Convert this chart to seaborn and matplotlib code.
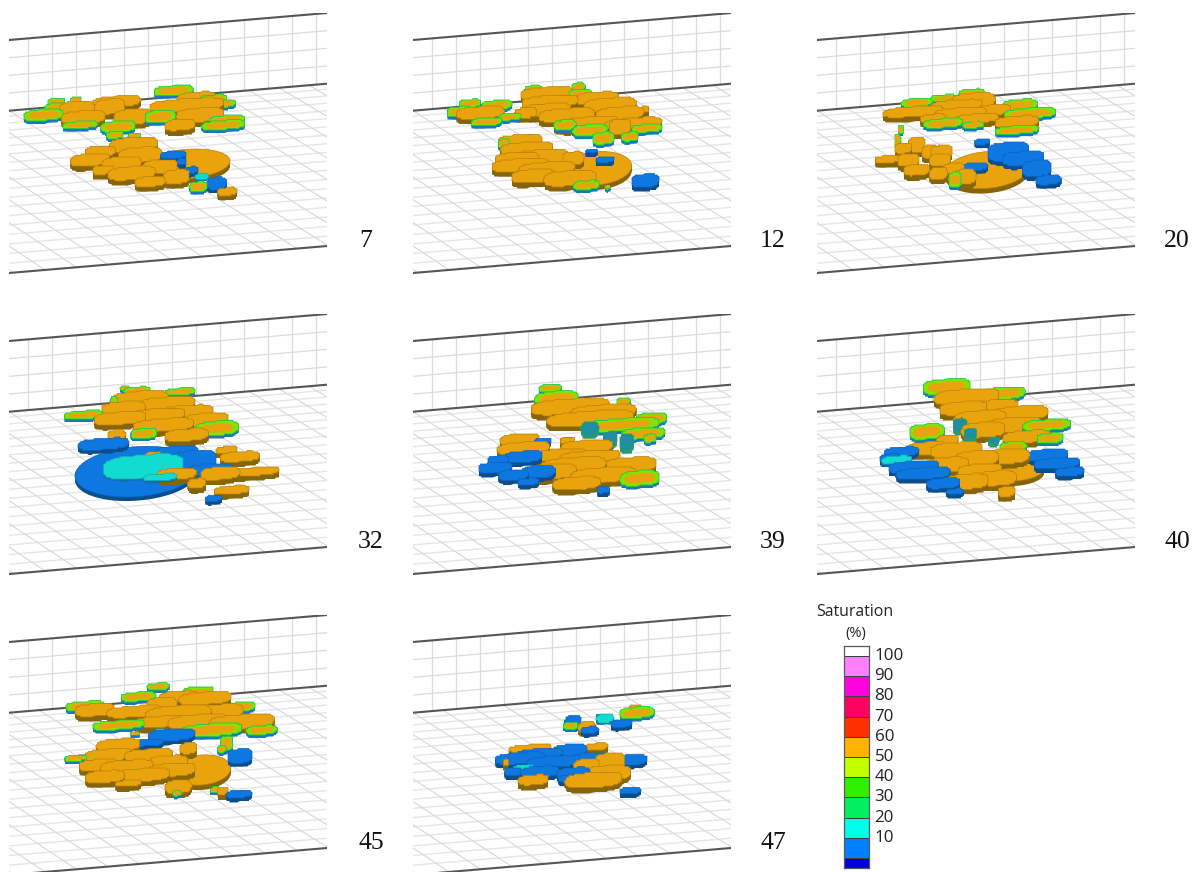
import numpy as np
import pandas as pd
import seaborn as sns
import matplotlib
matplotlib.use("Agg")
import matplotlib.pyplot as plt
from matplotlib.colors import ListedColormap

sns.set_theme(style="white")
plt.rcParams['font.family'] = ['Open Sans', 'DejaVu Sans']

W, H = 1203, 872
PANEL_LABELS = ["7", "12", "20", "32", "39", "40", "45", "47"]
PANEL_COL = [0, 1, 2, 0, 1, 2, 0, 1]
PANEL_ROW = [0, 0, 0, 1, 1, 1, 2, 2]
LEGEND_TICKS = [100, 90, 80, 70, 60, 50, 40, 30, 20, 10]
LEGEND_COLORS = ["#ffffff", "#ff80ff", "#ff00e0", "#ff0060", "#ff3000", "#ffb400",
                 "#c0ff00", "#30f000", "#00f060", "#00ffe8", "#0080ff", "#0000e0"]

# lobes of the saturated region: (x, y, width, height, kind)
# kinds: o orange, g orange with wet green rim, b blue, c cyan, t teal
P07_ORIGIN = (0, 0)
P07_DISCS = [(560, 492, 260, 88, "o")]
P07_LOBES = [
    (130, 345, 90, 22, "g"), (175, 322, 60, 18, "g"), (170, 305, 38, 14, "g"), (228, 300, 26, 12, "g"),
    (230, 325, 80, 28, "o"), (250, 352, 100, 26, "o"), (240, 375, 80, 14, "g"), (330, 320, 70, 30, "o"),
    (350, 305, 110, 22, "o"), (400, 350, 90, 30, "o"), (355, 380, 80, 22, "g"), (345, 405, 40, 14, "g"),
    (400, 408, 30, 12, "g"), (520, 272, 90, 20, "g"), (590, 295, 90, 25, "o"), (560, 315, 170, 25, "o"),
    (600, 345, 110, 28, "o"), (680, 360, 80, 18, "g"), (670, 375, 100, 18, "g"), (540, 375, 70, 22, "o"),
    (480, 350, 70, 25, "g"), (640, 295, 60, 14, "g"), (680, 310, 40, 14, "g"), (400, 435, 110, 30, "o"),
    (300, 455, 70, 22, "o"), (420, 465, 100, 30, "o"), (270, 480, 90, 24, "o"), (365, 490, 90, 26, "o"),
    (310, 510, 50, 18, "o"), (395, 520, 110, 26, "o"), (450, 545, 70, 20, "o"), (480, 500, 80, 28, "o"),
    (530, 530, 60, 28, "o"), (595, 560, 40, 20, "g"), (520, 465, 60, 16, "b"), (545, 485, 20, 14, "b"),
    (575, 510, 30, 14, "b"), (605, 530, 38, 18, "c"), (650, 550, 45, 26, "b"), (680, 575, 45, 16, "o"),
]
P12_ORIGIN = (430, 70)
P12_DISCS = [(500, 295, 210, 100, "o")]
P12_LOBES = [
    (120, 100, 50, 16, "g"), (200, 105, 70, 18, "g"), (90, 125, 60, 20, "g"), (150, 128, 110, 24, "o"),
    (170, 155, 70, 16, "g"), (240, 140, 50, 14, "g"), (285, 128, 50, 20, "o"), (350, 70, 120, 25, "o"),
    (310, 60, 40, 18, "g"), (360, 95, 130, 24, "o"), (350, 120, 110, 26, "o"), (410, 135, 130, 26, "o"),
    (470, 160, 150, 24, "o"), (480, 180, 80, 22, "g"), (520, 205, 50, 24, "g"), (450, 70, 50, 16, "g"),
    (445, 50, 30, 16, "g"), (500, 85, 100, 25, "o"), (540, 105, 120, 28, "o"), (570, 130, 110, 25, "o"),
    (610, 160, 130, 22, "o"), (650, 175, 70, 16, "g"), (600, 200, 40, 18, "g"), (570, 170, 50, 30, "o"),
    (405, 165, 50, 20, "g"), (645, 118, 16, 12, "o"), (270, 212, 100, 24, "o"), (222, 220, 25, 20, "g"),
    (290, 235, 120, 24, "o"), (260, 265, 100, 24, "o"), (330, 262, 130, 30, "o"), (270, 285, 130, 25, "o"),
    (350, 295, 130, 24, "o"), (310, 318, 100, 26, "o"), (420, 325, 120, 30, "o"), (470, 345, 60, 18, "g"),
    (430, 265, 50, 26, "o"), (485, 243, 28, 8, "b"), (525, 269, 42, 12, "b"), (645, 332, 66, 28, "b"),
    (533, 352, 12, 8, "g"),
]
P20_ORIGIN = (860, 80)
P20_DISCS = [(380, 270, 250, 110, "o")]
P20_LOBES = [
    (335, 42, 60, 20, "g"), (250, 55, 60, 14, "g"), (170, 68, 70, 16, "g"), (340, 62, 100, 30, "o"),
    (160, 95, 140, 20, "o"), (290, 75, 120, 20, "o"), (300, 100, 120, 22, "o"), (400, 90, 80, 20, "o"),
    (350, 115, 100, 18, "o"), (480, 75, 80, 22, "g"), (510, 100, 120, 20, "g"), (250, 130, 90, 18, "g"),
    (470, 125, 100, 22, "o"), (470, 150, 100, 16, "g"), (340, 135, 50, 12, "g"), (220, 115, 60, 16, "o"),
    (120, 148, 12, 14, "g"), (112, 180, 14, 24, "g"), (170, 195, 40, 30, "o"), (210, 215, 40, 25, "o"),
    (245, 215, 50, 25, "o"), (130, 205, 40, 20, "o"), (90, 237, 70, 14, "o"), (145, 240, 50, 25, "o"),
    (170, 270, 60, 22, "o"), (240, 240, 50, 25, "o"), (235, 280, 40, 25, "o"), (280, 265, 50, 20, "o"),
    (315, 290, 50, 30, "o"), (285, 300, 30, 30, "g"), (368, 185, 36, 12, "b"), (345, 260, 60, 16, "b"),
    (445, 215, 100, 40, "b"), (490, 235, 100, 30, "b"), (530, 265, 70, 34, "b"), (565, 300, 60, 20, "b"),
]
P32_ORIGIN = (0, 370)
P32_DISCS = [(410, 305, 370, 150, "b")]
P32_LOBES = [
    (375, 55, 20, 10, "g"), (410, 60, 60, 12, "g"), (540, 65, 70, 14, "g"), (420, 85, 130, 28, "o"),
    (370, 115, 100, 26, "o"), (500, 100, 130, 25, "o"), (250, 135, 90, 16, "g"), (360, 145, 120, 25, "o"),
    (470, 135, 130, 25, "o"), (560, 125, 120, 25, "o"), (490, 165, 140, 25, "o"), (620, 150, 100, 28, "o"),
    (650, 175, 100, 28, "g"), (430, 190, 60, 20, "g"), (560, 195, 100, 24, "o"), (350, 195, 40, 20, "o"),
    (340, 110, 20, 40, "g"), (310, 222, 120, 24, "b"), (530, 245, 100, 24, "b"), (680, 240, 50, 14, "o"),
    (720, 260, 90, 20, "o"), (580, 270, 110, 40, "b"), (430, 290, 240, 70, "c"), (460, 262, 40, 22, "o"),
    (560, 255, 80, 16, "c"), (630, 300, 110, 26, "b"), (760, 305, 120, 16, "o"), (660, 310, 90, 25, "o"),
    (530, 312, 90, 22, "o"), (480, 322, 100, 20, "c"), (590, 340, 40, 20, "o"), (695, 360, 80, 16, "o"),
    (640, 385, 40, 12, "b"),
]
P39_ORIGIN = (470, 375)
P39_DISCS = []
P39_LOBES = [
    (240, 40, 50, 16, "g"), (260, 70, 100, 28, "g"), (460, 80, 30, 16, "g"), (300, 95, 180, 30, "o"),
    (400, 110, 150, 28, "o"), (545, 130, 70, 22, "g"), (360, 130, 200, 28, "o"), (360, 160, 50, 40, "t"),
    (450, 150, 180, 25, "g"), (420, 190, 40, 40, "t"), (520, 175, 100, 22, "g"), (540, 190, 30, 16, "g"),
    (470, 200, 40, 50, "t"), (150, 195, 90, 25, "o"), (220, 198, 40, 12, "b"), (290, 195, 30, 14, "o"),
    (160, 220, 120, 25, "o"), (350, 215, 120, 25, "o"), (270, 240, 120, 24, "o"), (360, 245, 140, 24, "o"),
    (160, 245, 90, 24, "b"), (85, 255, 50, 18, "b"), (480, 270, 120, 30, "o"), (310, 270, 150, 30, "o"),
    (75, 278, 80, 22, "b"), (240, 290, 120, 30, "o"), (205, 290, 80, 26, "b"), (400, 300, 150, 30, "o"),
    (130, 300, 70, 22, "b"), (510, 310, 90, 30, "g"), (175, 320, 50, 14, "b"), (320, 325, 110, 25, "o"),
    (400, 345, 30, 14, "b"),
]
P40_ORIGIN = (870, 375)
P40_DISCS = [(440, 285, 165, 65, "o")]
P40_LOBES = [
    (200, 35, 50, 14, "g"), (230, 35, 110, 30, "g"), (290, 65, 150, 30, "o"), (400, 55, 100, 24, "g"),
    (280, 100, 110, 26, "o"), (380, 95, 100, 28, "o"), (450, 115, 130, 28, "o"), (270, 150, 40, 40, "t"),
    (330, 130, 120, 30, "o"), (430, 150, 130, 30, "o"), (530, 150, 110, 22, "g"), (300, 175, 40, 30, "t"),
    (340, 165, 100, 30, "o"), (370, 195, 30, 20, "t"), (470, 185, 110, 24, "o"), (540, 190, 60, 20, "g"),
    (430, 215, 60, 20, "g"), (170, 170, 80, 30, "g"), (230, 195, 50, 20, "o"), (170, 220, 90, 25, "o"),
    (260, 225, 120, 30, "o"), (95, 230, 80, 20, "b"), (320, 250, 100, 30, "o"), (400, 245, 120, 30, "o"),
    (60, 250, 50, 18, "b"), (80, 255, 90, 24, "c"), (530, 240, 100, 24, "b"), (230, 270, 100, 30, "o"),
    (130, 275, 120, 24, "b"), (560, 265, 110, 22, "b"), (330, 285, 100, 24, "o"), (600, 290, 70, 18, "b"),
    (160, 295, 130, 24, "b"), (380, 310, 90, 30, "o"), (290, 320, 100, 30, "o"), (220, 325, 80, 22, "b"),
    (255, 350, 40, 12, "b"), (410, 350, 40, 20, "o"),
]
P45_ORIGIN = (55, 680)
P45_DISCS = [(440, 270, 175, 90, "o")]
P45_LOBES = [
    (310, 20, 50, 14, "g"), (430, 32, 70, 16, "g"), (250, 50, 80, 18, "g"), (370, 50, 90, 22, "o"),
    (450, 55, 120, 25, "o"), (90, 78, 90, 18, "g"), (320, 75, 70, 30, "o"), (560, 80, 60, 18, "g"),
    (120, 90, 90, 25, "o"), (240, 95, 130, 22, "o"), (370, 100, 150, 30, "o"), (480, 95, 130, 28, "o"),
    (320, 125, 130, 22, "o"), (430, 125, 140, 28, "o"), (560, 125, 150, 28, "o"), (190, 135, 120, 18, "g"),
    (620, 150, 70, 18, "g"), (470, 150, 140, 25, "g"), (320, 155, 40, 16, "c"), (240, 160, 20, 8, "g"),
    (350, 165, 110, 25, "b"), (280, 188, 70, 14, "b"), (515, 190, 30, 30, "g"), (500, 207, 20, 14, "g"),
    (400, 205, 40, 22, "o"), (555, 228, 60, 30, "b"), (190, 195, 100, 24, "o"), (60, 232, 50, 12, "g"),
    (160, 225, 110, 24, "o"), (280, 225, 110, 24, "o"), (340, 245, 90, 24, "o"), (130, 255, 90, 22, "o"),
    (215, 260, 120, 26, "o"), (350, 270, 110, 26, "o"), (150, 290, 90, 24, "o"), (260, 285, 130, 26, "o"),
    (220, 310, 60, 12, "o"), (370, 320, 60, 26, "o"), (365, 340, 20, 10, "g"), (478, 328, 18, 12, "g"),
    (503, 333, 26, 14, "o"), (552, 342, 60, 16, "b"),
]
P47_ORIGIN = (490, 700)
P47_DISCS = []
P47_LOBES = [
    (435, 25, 30, 14, "o"), (440, 38, 80, 22, "g"), (335, 50, 30, 14, "b"), (345, 55, 50, 26, "c"),
    (250, 65, 40, 26, "b"), (395, 70, 50, 16, "b"), (240, 75, 30, 16, "g"), (290, 80, 40, 20, "o"),
    (300, 90, 40, 14, "b"), (120, 145, 100, 14, "o"), (320, 140, 50, 14, "o"), (240, 150, 80, 24, "b"),
    (150, 160, 110, 20, "b"), (90, 175, 120, 24, "b"), (300, 175, 90, 24, "b"), (420, 180, 80, 22, "b"),
    (45, 185, 12, 14, "o"), (360, 185, 70, 34, "o"), (190, 185, 130, 24, "b"), (290, 200, 60, 30, "o"),
    (100, 205, 60, 20, "c"), (70, 215, 40, 18, "b"), (150, 215, 90, 24, "b"), (350, 220, 110, 30, "o"),
    (250, 220, 80, 25, "b"), (250, 235, 70, 16, "b"), (130, 240, 70, 20, "o"), (310, 240, 130, 30, "o"),
    (420, 272, 50, 14, "b"),
]
ALL_ORIGINS = [P07_ORIGIN, P12_ORIGIN, P20_ORIGIN, P32_ORIGIN, P39_ORIGIN, P40_ORIGIN, P45_ORIGIN, P47_ORIGIN]
ALL_DISCS = [P07_DISCS, P12_DISCS, P20_DISCS, P32_DISCS, P39_DISCS, P40_DISCS, P45_DISCS, P47_DISCS]
ALL_LOBES = [P07_LOBES, P12_LOBES, P20_LOBES, P32_LOBES, P39_LOBES, P40_LOBES, P45_LOBES, P47_LOBES]

TOP = {"o": "#e9a30c", "g": "#86e000", "b": "#0f78e0", "c": "#12dcd0", "t": "#1f8fa0"}
SIDE = {"o": "#86640a", "g": "#1878b8", "b": "#0c4d8a", "c": "#0f6fa8", "t": "#2a9a6a"}
EDGE = {"o": "#b98208", "b": "#0b62bd", "c": "#0fb0b0", "t": "#2a9a6a", "g": "#20c850"}
DEPTH = {"o": 5, "g": 3, "b": 4, "c": 2, "t": 4}
GROW_W = {"o": 1.3, "g": 1.3, "b": 1.25, "c": 1.0, "t": 1.0}
GROW_H = {"o": 1.5, "g": 1.5, "b": 1.4, "c": 1.0, "t": 1.0}

PANEL_W, PANEL_H = 318, 262
COL_X = [9, 413, 817]
ROW_Y = [13, 314, 615]

fig = plt.figure(figsize=(W / 100, H / 100), dpi=100, facecolor="white")


def scaffold(ax):
    """Wall and floor grid of a panel, drawn through seaborn."""
    rows = []
    k = 0
    slope = -27 / 318

    def add(x0, y0, x1, y1, kind):
        nonlocal k
        rows.append((k, x0, y0, kind))
        rows.append((k, x1, y1, kind))
        k += 1

    wall_top, wall_bot, floor_bot = 27, 97.7, 260
    for f in (0.25, 0.5, 0.75):
        y = wall_top + f * (wall_bot - wall_top)
        add(0, y, 318, y + slope * 318, "wall")
    for x in np.arange(19, 318, 24.0):
        add(x, wall_top + slope * x, x, wall_bot + slope * x, "wall")
    nrows = 19
    for i in range(1, nrows):
        f = (i / nrows) ** 1.15
        y = wall_bot + f * (floor_bot - wall_bot)
        add(0, y, 318, y + slope * 318, "floorh")
    for xt in np.arange(-420, 318, 30.0):
        xb = xt * 1.05 + 225
        add(xt, wall_bot + slope * xt, xb, floor_bot + slope * xb, "floord")
    df = pd.DataFrame(rows, columns=["id", "x", "y", "kind"])
    for kind, col, lw in (("wall", "#dcdcdc", 0.9), ("floorh", "#e6e6e6", 1.0), ("floord", "#d8d8d8", 0.8)):
        sns.lineplot(data=df[df.kind == kind], x="x", y="y", units="id", estimator=None, sort=False,
                     color=col, lw=lw, ax=ax, legend=False, zorder=1)
    frame = pd.DataFrame({
        "id": [0, 0, 1, 1, 2, 2],
        "x": [0, 318, 0, 318, 0, 318],
        "y": [wall_top, 0, wall_bot, wall_bot + slope * 318, floor_bot, floor_bot + slope * 318],
    })
    sns.lineplot(data=frame, x="x", y="y", units="id", estimator=None, sort=False,
                 color="#565656", lw=1.5, ax=ax, legend=False, zorder=2)


ANG = np.linspace(0, 2 * np.pi, 90)


def outline(x, y, w, h, power, step):
    """Outline of a lobe: a tilted rounded box, stepped like the cells of the model."""
    c, s = np.cos(ANG), np.sin(ANG)
    dx = w / 2 * np.sign(c) * np.abs(c) ** (2 / power)
    dy = h / 2 * np.sign(s) * np.abs(s) ** (2 / power)
    px, py = x + dx, y + dy - 0.07 * dx
    if step:
        px, py = np.round(px / step) * step, np.round(py / step) * step
    return px, py


def lobe(ax, x, y, w, h, kind, z, disc=False):
    power, step = (2, 0) if disc else (3.2, 1.5)
    if not disc:
        w, h = w * GROW_W[kind], h * GROW_H[kind]
    for d in range(1, DEPTH[kind] + 1):
        ax.fill(*outline(x, y + d, w, h, power, step), fc=SIDE[kind], ec="none", zorder=z)
    if kind == "g":
        ax.fill(*outline(x, y, w, h, power, step), fc=TOP["g"], ec=EDGE["g"], lw=0.6, zorder=z)
        ax.fill(*outline(x, y, w * 0.76, h * 0.62, power, step), fc=TOP["o"], ec="none", zorder=z)
    else:
        ax.fill(*outline(x, y, w, h, power, step), fc=TOP[kind], ec=EDGE[kind], lw=0.5, zorder=z)


for i, label in enumerate(PANEL_LABELS):
    px, py = COL_X[PANEL_COL[i]], ROW_Y[PANEL_ROW[i]]
    ax = fig.add_axes([px / W, 1 - (py + PANEL_H) / H, PANEL_W / W, PANEL_H / H])
    ax.set_xlim(0, PANEL_W)
    ax.set_ylim(PANEL_H, 0)
    scaffold(ax)
    ax.set_axis_off()
    ox, oy = ALL_ORIGINS[i]
    z = 5.0

    def local(t):
        return ox + t[0] / 3 - px, oy + t[1] / 3 - py, t[2] / 3, t[3] / 3, t[4]

    for d in ALL_DISCS[i]:
        lobe(ax, *local(d), z, disc=True)
        z += 0.01
    for l in sorted(ALL_LOBES[i], key=lambda t: t[1]):
        lobe(ax, *local(l), z)
        z += 0.01
    cx = px + 357 if len(label) == 1 else px + 360
    if label in ("32", "45"):
        cx = px + 362
    fig.text(cx / W, 1 - (py + 228) / H, label, family="Liberation Serif", fontsize=18.5,
             color="#111111", ha="center", va="center")

# saturation scale
lax = fig.add_axes([844 / W, 1 - 868 / H, 25 / W, 222 / H])
cells = pd.DataFrame({"level": np.arange(len(LEGEND_COLORS))}, index=np.arange(len(LEGEND_COLORS)))
sns.heatmap(cells, ax=lax, cmap=ListedColormap(LEGEND_COLORS), cbar=False,
            linewidths=0.7, linecolor="#3d3d3d", xticklabels=False, vmin=-0.5, vmax=len(LEGEND_COLORS) - 0.5)
lax.set_ylim(11.5, 0.5)
lax.set_ylabel("")
lax.set_xlabel("")
lax.yaxis.tick_right()
lax.set_yticks(np.arange(1, len(LEGEND_TICKS) + 1) - 0.1)
lax.set_yticklabels(LEGEND_TICKS, rotation=0, fontsize=12.2, color="#222222")
lax.tick_params(axis="y", length=0, pad=4)
for s in lax.spines.values():
    s.set_visible(True)
    s.set_color("#5a5a5a")
    s.set_linewidth(0.9)
fig.text(855 / W, 1 - 612 / H, "Saturation", ha="center", va="center", fontsize=11.4, color="#222222")
fig.text(856 / W, 1 - 633 / H, "(%)", ha="center", va="center", fontsize=10.5, color="#222222")

fig.savefig("out.png", dpi=100, facecolor="white")
